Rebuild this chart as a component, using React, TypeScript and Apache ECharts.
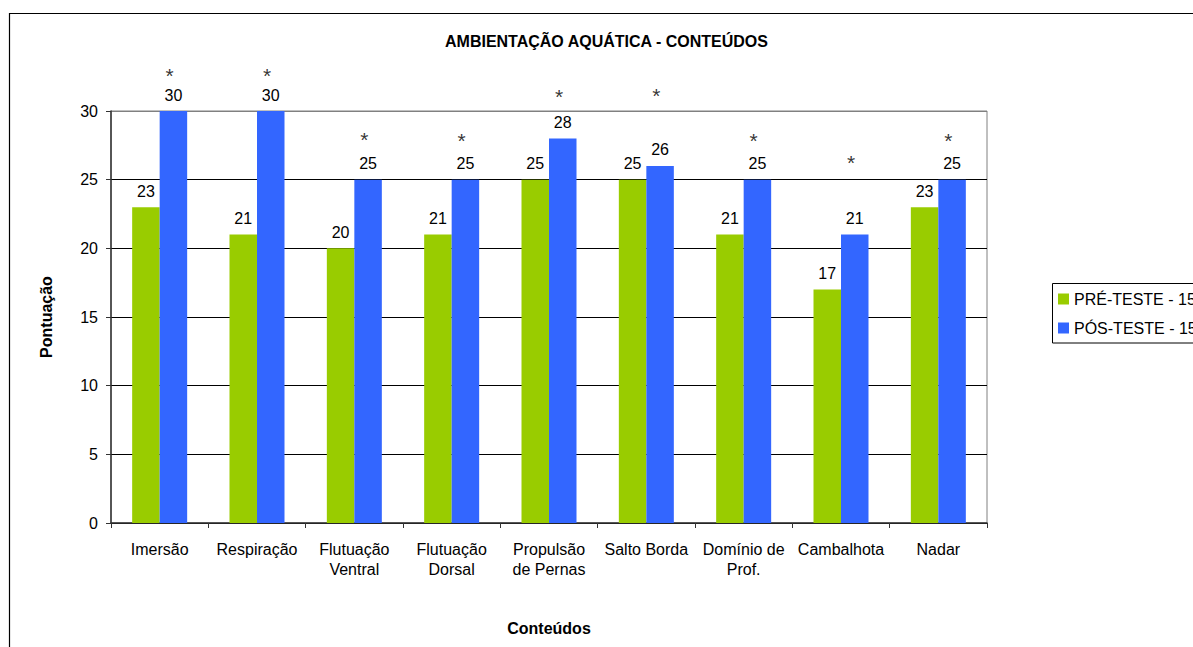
import React, { useEffect, useRef } from "react";
import * as echarts from "echarts";

// Chart content
const chartTitle = "AMBIENTAÇÃO AQUÁTICA - CONTEÚDOS";
const xAxisTitle = "Conteúdos";
const yAxisTitle = "Pontuação";

const categories = [
  "Imersão",
  "Respiração",
  "Flutuação\nVentral",
  "Flutuação\nDorsal",
  "Propulsão\nde Pernas",
  "Salto Borda",
  "Domínio de\nProf.",
  "Cambalhota",
  "Nadar",
];

const preTestName = "PRÉ-TESTE - 15";
const postTestName = "PÓS-TESTE - 15";

const preTest = [23, 21, 20, 21, 25, 25, 21, 17, 23];
const postTest = [30, 30, 25, 25, 28, 26, 25, 21, 25];

// Height (in score units) of the significance marker above each post-test bar
const significanceLevel = [32.6, 32.6, 27.95, 27.85, 31.05, 31.1, 27.85, 26.25, 27.85];

const yTicks = [0, 5, 10, 15, 20, 25, 30];

const GREEN = "#99CC00";
const BLUE = "#3366FF";
const FONT = "Liberation Sans, Arial, sans-serif";

export default function App() {
  const ref = useRef<HTMLDivElement>(null);

  useEffect(() => {
    if (!ref.current) return;
    const chart = echarts.init(ref.current, null, { renderer: "svg" });

    const tickStep = yTicks[1] - yTicks[0];
    const splitColors = yTicks.map((_, i) => (i === yTicks.length - 1 ? "#808080" : "#000000"));

    const valueLabel = {
      show: true,
      position: "top",
      distance: 8,
      fontSize: 16,
      color: "#000",
      fontFamily: FONT,
    };

    chart.setOption({
      animation: false,
      backgroundColor: "#ffffff",
      textStyle: { fontFamily: FONT },
      title: {
        text: chartTitle,
        left: 445,
        top: 33,
        padding: 0,
        textStyle: { fontSize: 16, fontWeight: "bold", color: "#000", fontFamily: FONT },
      },
      legend: {
        orient: "vertical",
        left: 1058,
        top: 291,
        padding: 0,
        itemWidth: 11,
        itemHeight: 11,
        itemGap: 13,
        icon: "rect",
        data: [preTestName, postTestName],
        textStyle: { fontSize: 16, color: "#000", fontFamily: FONT },
      },
      graphic: [
        {
          type: "rect",
          silent: true,
          shape: { x: 9.5, y: 13.5, width: 2000, height: 2000 },
          style: { fill: "none", stroke: "#000", lineWidth: 1.2 },
        },
        {
          type: "rect",
          silent: true,
          shape: { x: 1052.5, y: 283.5, width: 400, height: 59.5 },
          style: { fill: "none", stroke: "#000", lineWidth: 1 },
        },
      ],
      grid: {
        left: 111,
        top: 111,
        width: 876,
        height: 412,
        show: true,
        borderColor: "#808080",
        borderWidth: 1,
        backgroundColor: "transparent",
      },
      xAxis: {
        type: "category",
        data: categories,
        name: xAxisTitle,
        nameLocation: "middle",
        nameGap: 97,
        nameTextStyle: { fontSize: 16, fontWeight: "bold", color: "#000", fontFamily: FONT },
        axisLine: { lineStyle: { color: "#333", width: 1.5 } },
        axisTick: { show: true, length: 5, inside: false, lineStyle: { color: "#333" } },
        axisLabel: {
          fontSize: 16,
          lineHeight: 20,
          color: "#000",
          margin: 16,
          interval: 0,
          fontFamily: FONT,
        },
        splitLine: { show: false },
      },
      yAxis: {
        type: "value",
        min: yTicks[0],
        max: yTicks[yTicks.length - 1],
        interval: tickStep,
        name: yAxisTitle,
        nameLocation: "middle",
        nameGap: 57,
        nameTextStyle: { fontSize: 16, fontWeight: "bold", color: "#000", fontFamily: FONT },
        axisLine: { show: true, lineStyle: { color: "#333", width: 1.5 } },
        axisTick: { show: true, length: 5, inside: false, lineStyle: { color: "#333" } },
        axisLabel: { fontSize: 16, color: "#000", margin: 13, fontFamily: FONT },
        splitLine: { show: true, lineStyle: { color: splitColors, width: 1 } },
      },
      series: [
        {
          name: preTestName,
          type: "bar",
          data: preTest,
          barWidth: 27.5,
          barGap: "0%",
          itemStyle: { color: GREEN },
          label: valueLabel,
          silent: true,
        },
        {
          name: postTestName,
          type: "bar",
          data: postTest,
          barWidth: 27.5,
          barGap: "0%",
          itemStyle: { color: BLUE },
          label: valueLabel,
          silent: true,
        },
        {
          name: "significance",
          type: "scatter",
          data: significanceLevel,
          clip: false,
          symbol: "circle",
          symbolSize: 1,
          itemStyle: { color: "rgba(0,0,0,0)" },
          label: {
            show: true,
            position: "inside",
            offset: [10, 0],
            formatter: "*",
            fontSize: 21,
            lineHeight: 12,
            color: "#000",
            fontFamily: FONT,
          },
          silent: true,
          z: 5,
        },
      ],
    });

    return () => chart.dispose();
  }, []);

  return (
    <div
      ref={ref}
      style={{ position: "fixed", left: 0, top: 0, width: 1193, height: 647, background: "#fff" }}
    />
  );
}
